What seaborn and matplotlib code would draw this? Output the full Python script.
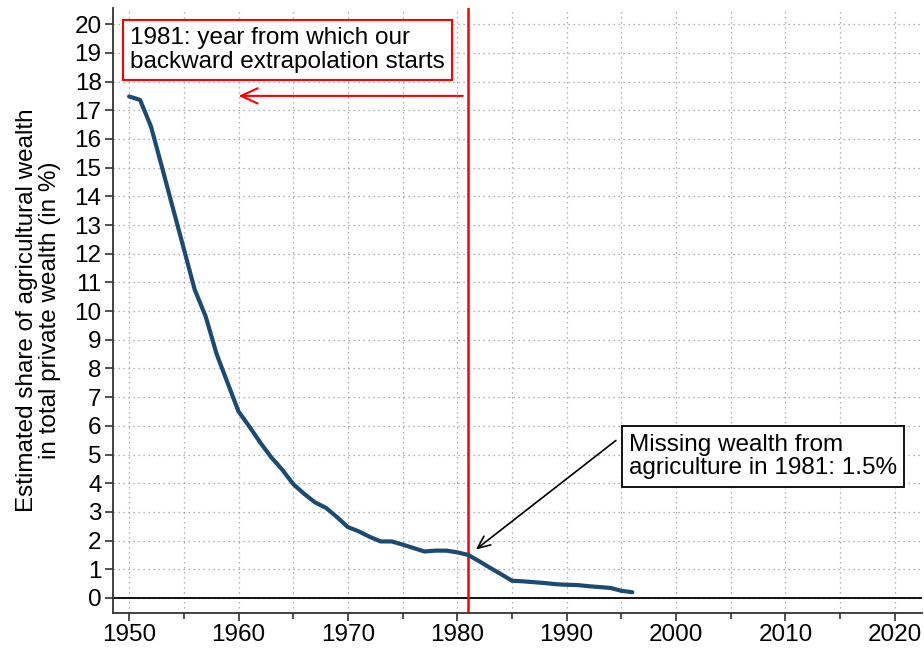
import numpy as np
import pandas as pd
import matplotlib
matplotlib.use("Agg")
import matplotlib.pyplot as plt
import seaborn as sns

years = list(range(1950, 1997))
share = [17.48, 17.36, 16.43, 15.02, 13.59, 12.17, 10.74, 9.81, 8.50, 7.50,
         6.50, 5.97, 5.41, 4.90, 4.47, 3.97, 3.63, 3.33, 3.14, 2.82,
         2.47, 2.32, 2.13, 1.97, 1.97, 1.86, 1.74, 1.62, 1.65, 1.65,
         1.59, 1.50, 1.28, 1.05, 0.83, 0.60, 0.58, 0.55, 0.52, 0.48,
         0.46, 0.45, 0.41, 0.38, 0.35, 0.25, 0.20]

x_major = [1950, 1960, 1970, 1980, 1990, 2000, 2010, 2020]
x_minor = [1955, 1965, 1975, 1985, 1995, 2005, 2015]
y_ticks = list(range(0, 21))

df = pd.DataFrame({"year": years, "share": share})

sns.set_style("ticks")
plt.rcParams["font.family"] = ["Liberation Sans", "DejaVu Sans"]
plt.rcParams["text.color"] = "black"
plt.rcParams["axes.labelcolor"] = "black"

FS = 17.5

fig, ax = plt.subplots(figsize=(9.24, 6.52), dpi=100)
fig.subplots_adjust(left=0.122, right=0.998, top=0.988, bottom=0.060)

# dotted grid at every 5 years and every integer
for xv in x_major + x_minor:
    ax.axvline(xv, color="#999999", lw=0.9, ls=(0, (1, 3)), zorder=0)
for yv in y_ticks:
    ax.axhline(yv, color="#999999", lw=0.9, ls=(0, (1, 3)), zorder=0)

ax.axhline(0, color="black", lw=1.3, zorder=1)
ax.axvline(1981, color="#ff0000", lw=1.8, zorder=2)

sns.lineplot(data=df, x="year", y="share", ax=ax, color="#1b4a73", lw=3.0, zorder=3)

ax.set_xlim(1948.5, 2022.5)
ax.set_ylim(-0.52, 20.57)
ax.set_xticks(x_major)
ax.set_xticks(x_minor, minor=True)
ax.set_yticks(y_ticks)
ax.tick_params(axis="both", which="major", labelsize=FS, length=6, width=1.2,
               color="#333333", labelcolor="black", pad=2)
ax.tick_params(axis="x", which="minor", length=4, width=1.2, color="#333333")
for s in ["top", "right"]:
    ax.spines[s].set_visible(False)
for s in ["left", "bottom"]:
    ax.spines[s].set_linewidth(1.3)
    ax.spines[s].set_color("#333333")

ax.set_xlabel("")
ax.set_ylabel("Estimated share of agricultural wealth\nin total private wealth (in %)",
              fontsize=FS, labelpad=10, linespacing=1.05)

# red annotation
ax.text(1950.1, 19.1, "1981: year from which our\nbackward extrapolation starts",
        fontsize=FS, ha="left", va="center", linespacing=1.1,
        bbox=dict(boxstyle="square,pad=0.3", fc="white", ec="#ff0000", lw=1.5), zorder=5)
ax.annotate("", xy=(1960, 17.5), xytext=(1980.5, 17.5),
            arrowprops=dict(arrowstyle="->,head_length=1.2,head_width=0.55", color="#ff0000",
                            lw=1.5, shrinkA=0, shrinkB=0))

# black annotation
ax.text(1995.7, 4.93, "Missing wealth from\nagriculture in 1981: 1.5%",
        fontsize=FS, ha="left", va="center", linespacing=1.1,
        bbox=dict(boxstyle="square,pad=0.3", fc="white", ec="black", lw=1.3), zorder=5)
ax.annotate("", xy=(1981.7, 1.69), xytext=(1994.5, 5.49),
            arrowprops=dict(arrowstyle="->,head_length=0.9,head_width=0.4", color="black",
                            lw=1.2, shrinkA=0, shrinkB=0))

fig.savefig("out.png", dpi=100)
